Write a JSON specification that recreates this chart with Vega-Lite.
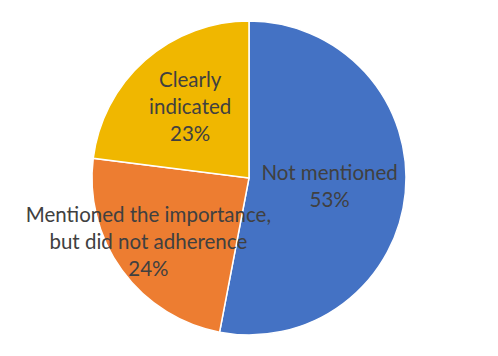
{
  "$schema": "https://vega.github.io/schema/vega-lite/v6.json",
  "width": 498,
  "height": 356,
  "autosize": {"type": "fit", "contains": "padding"},
  "padding": 0,
  "background": "white",
  "view": {"stroke": null},
  "data": {
    "values": [
      {"cat": "Not mentioned", "pct": 53, "ord": 1, "label": "Not mentioned\n53%"},
      {"cat": "Mentioned the importance, but did not adherence", "pct": 24, "ord": 2, "label": "Mentioned the importance,\nbut did not adherence\n24%"},
      {"cat": "Clearly indicated", "pct": 23, "ord": 3, "label": "Clearly\nindicated\n23%"}
    ]
  },
  "encoding": {
    "theta": {"field": "pct", "type": "quantitative", "stack": true},
    "order": {"field": "ord", "type": "quantitative"}
  },
  "layer": [
    {
      "mark": {"type": "arc", "outerRadius": 157, "stroke": "white", "strokeWidth": 1.5},
      "encoding": {
        "color": {
          "field": "cat",
          "type": "nominal",
          "scale": {
            "domain": ["Not mentioned", "Mentioned the importance, but did not adherence", "Clearly indicated"],
            "range": ["#4472C4", "#ED7D31", "#F0B700"]
          },
          "legend": null
        }
      }
    },
    {
      "mark": {"type": "text", "radius": 81, "dy": -11.5, "font": "Lato", "fontSize": 20.5, "color": "#404040", "lineBreak": "\n", "lineHeight": 27, "align": "center", "baseline": "middle"},
      "encoding": {
        "text": {"condition": {"test": "datum.ord === 1", "field": "label"}, "value": ""}
      }
    },
    {
      "mark": {"type": "text", "radius": 117, "dx": -6, "dy": -31, "font": "Lato", "fontSize": 20.5, "color": "#404040", "lineBreak": "\n", "lineHeight": 27, "align": "center", "baseline": "middle"},
      "encoding": {
        "text": {"condition": {"test": "datum.ord === 2", "field": "label"}, "value": ""}
      }
    },
    {
      "mark": {"type": "text", "radius": 92, "dx": 2, "dy": -28, "font": "Lato", "fontSize": 20.5, "color": "#404040", "lineBreak": "\n", "lineHeight": 27, "align": "center", "baseline": "middle"},
      "encoding": {
        "text": {"condition": {"test": "datum.ord === 3", "field": "label"}, "value": ""}
      }
    }
  ]
}
